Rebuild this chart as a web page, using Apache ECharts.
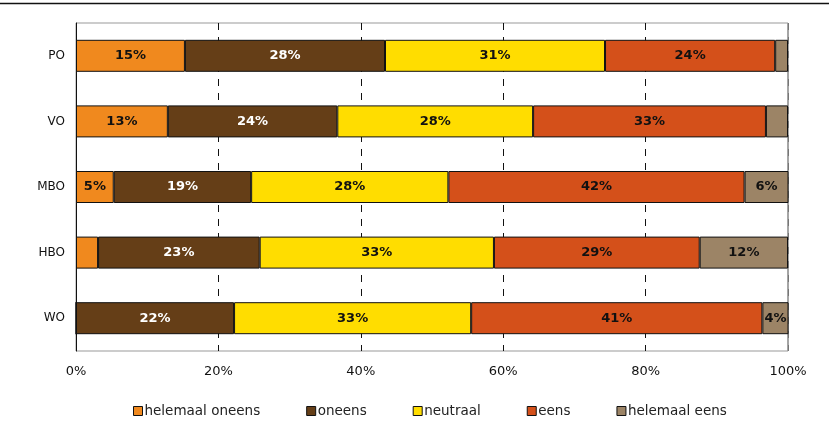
<!DOCTYPE html>
<html><head><meta charset="utf-8">
<script src="https://cdn.jsdelivr.net/npm/echarts@6/dist/echarts.min.js"></script>
<style>html,body{margin:0;padding:0;background:#fff}#c{width:829px;height:439px}</style>
</head><body><div id="c"></div>
<script>
var categories = ['PO', 'VO', 'MBO', 'HBO', 'WO'];
var seriesNames = ['helemaal oneens', 'oneens', 'neutraal', 'eens', 'helemaal eens'];
var helemaalOneens = [15.3, 12.9, 5.3, 3.1, 0];
var oneens = [28.1, 23.8, 19.3, 22.7, 22.2];
var neutraal = [30.9, 27.5, 27.7, 32.9, 33.3];
var eens = [23.9, 32.7, 41.6, 28.9, 40.9];
var helemaalEens = [1.8, 3.1, 6.2, 12.4, 3.7];
var xTicks = [0, 20, 40, 60, 80, 100];

var colors = ['#F0891E', '#653E17', '#FFDD00', '#D4501A', '#9C8466'];
var labelColors = ['#111', '#fff', '#111', '#111', '#111'];
var dataSets = [helemaalOneens, oneens, neutraal, eens, helemaalEens];

var chart = echarts.init(document.getElementById('c'));
var series = dataSets.map(function (d, i) {
  return {
    name: seriesNames[i], type: 'bar', stack: 'total', barWidth: 32,
    data: d,
    itemStyle: { color: colors[i], borderColor: '#111', borderWidth: 1 },
    label: {
      show: true, position: 'inside',
      fontFamily: 'DejaVu Sans', fontWeight: 'bold', fontSize: 13,
      color: labelColors[i],
      formatter: function (p) { return p.value >= 3.5 ? Math.round(p.value) + '%' : ''; }
    },
    emphasis: { disabled: true }
  };
});
chart.setOption({
  animation: false,
  grid: { left: 76, right: 41, top: 23, bottom: 88, show: true, borderColor: '#999', borderWidth: 1 },
  xAxis: {
    type: 'value', min: xTicks[0], max: xTicks[xTicks.length - 1], interval: 20,
    axisLine: { show: false }, axisTick: { show: false },
    axisLabel: { formatter: '{value}%', color: '#111', fontFamily: 'DejaVu Sans', fontSize: 13, margin: 14 },
    splitLine: { show: true, lineStyle: { color: '#111', type: [7, 7], width: 1 } }
  },
  yAxis: {
    type: 'category', data: categories, inverse: true,
    axisLine: { show: true, lineStyle: { color: '#111', width: 1 } },
    axisTick: { show: false },
    axisLabel: { color: '#111', fontFamily: 'DejaVu Sans', fontSize: 12, margin: 11 }
  },
  legend: {
    bottom: 16, left: 128, itemGap: 46, itemWidth: 9, itemHeight: 9,
    icon: 'rect',
    textStyle: { color: '#222', fontFamily: 'DejaVu Sans', fontSize: 13.5, padding: [0, 0, 0, -3] },
    data: seriesNames.map(function (n, i) {
      return { name: n, itemStyle: { color: colors[i], borderColor: '#111', borderWidth: 1 } };
    })
  },
  series: series
});
// cover the dashed split line at the right edge with the solid grey frame line (below the bars)
var xr = Math.round(chart.convertToPixel({ xAxisIndex: 0 }, xTicks[xTicks.length - 1]));
var rect = chart.getModel().getComponent('grid').coordinateSystem.getRect();
chart.setOption({
  graphic: [{
    type: 'line', shape: { x1: 0, y1: 3.5, x2: 829, y2: 3.5 },
    style: { stroke: '#111', lineWidth: 1.5 }
  }, {
    type: 'line', z: 1, shape: { x1: xr, y1: rect.y, x2: xr, y2: rect.y + rect.height },
    style: { stroke: '#999', lineWidth: 1.5 }
  }]
});
</script></body></html>
